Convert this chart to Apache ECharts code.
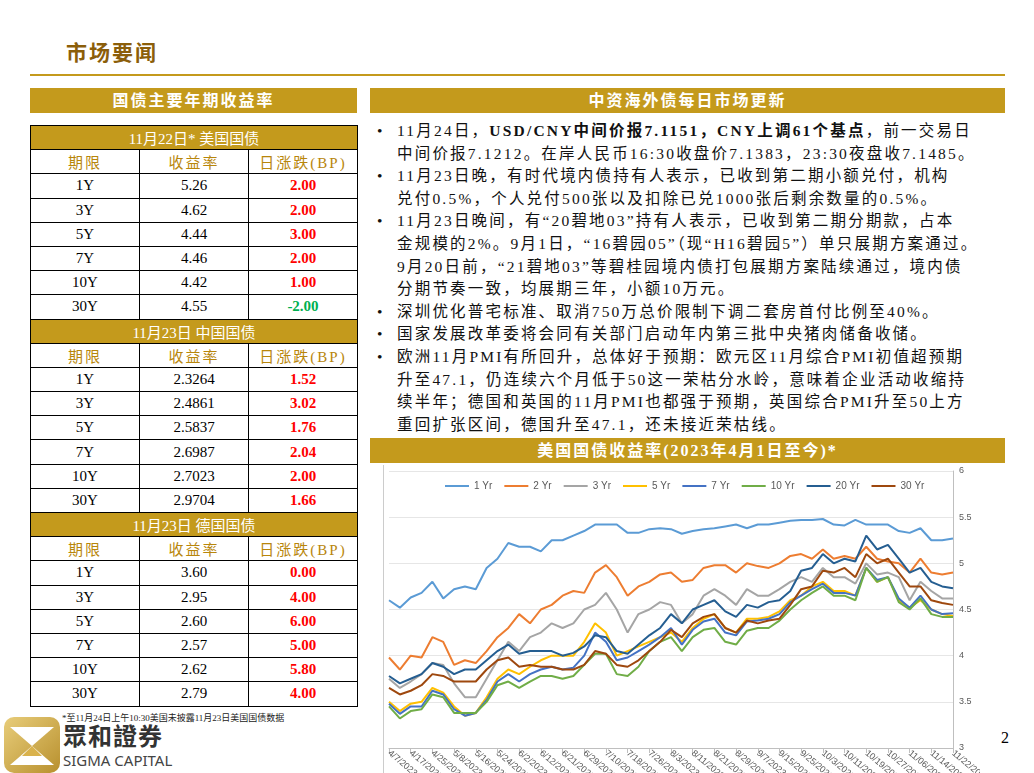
<!DOCTYPE html>
<html>
<head>
<meta charset="utf-8">
<script src="https://cdn.jsdelivr.net/npm/echarts@6/dist/echarts.min.js"></script>
<style>
  body { margin: 0; width: 1034px; height: 773px; background: #fff; position: relative; overflow: hidden;
         font-family: "Liberation Serif", "Noto Sans CJK SC", serif; }
  .abs { position: absolute; }
  .bar { background: #C49A1C; color: #fff; font-weight: bold; font-size: 16px; text-align: center; line-height: 25px; height: 25px; letter-spacing: 2px; }
  table { border-collapse: collapse; }
  td { border: 1px solid #000; height: 23.2px; padding: 0; text-align: center; font-size: 15px; width: 108px; }
  td.sub { background: #C49A1C; color: #fff; }
  td.hd { color: #B8860B; letter-spacing: 2px; }
  .up { color: #FF0000; font-weight: bold; }
  .dn { color: #00B050; font-weight: bold; }
  ul { margin: 0; padding: 0; list-style: none; }
  li { position: relative; padding-left: 27px; font-size: 15.5px; line-height: 22.6px; white-space: nowrap; color: #111; letter-spacing: 2.2px; }
  li:before { content: "•"; position: absolute; left: 7px; }
</style>
</head>
<body>
<div class="abs" style="left:66px;top:36px;font-size:21px;font-weight:bold;color:#8B5E0A;letter-spacing:2px;">市场要闻</div>
<div class="abs" style="left:30px;top:74px;width:975px;height:2px;background:#C49A1C;"></div>

<div class="abs bar" style="left:30px;top:88px;width:327px;">国债主要年期收益率</div>
<table class="abs" id="tbl" style="left:30px;top:125px;width:328px;"></table>
<div class="abs" style="left:62px;top:711px;font-size:9px;color:#222;">*至11月24日上午10:30美国未披露11月23日美国国债数据</div>

<div class="abs" style="left:4px;top:717px;width:56px;height:56px;border-radius:10px;background:linear-gradient(135deg,#E8CD7A,#B8902E);"></div>
<svg class="abs" style="left:10px;top:727px;" width="44" height="38"><polygon points="0,0 44,0 22,19" fill="#fff"/><polygon points="0,38 44,38 22,19" fill="#fff"/><polygon points="12,29 32,29 22,19" fill="#D9B24C"/></svg>
<div class="abs" style="left:63px;top:722px;font-family:'Noto Sans CJK TC',sans-serif;font-size:24px;font-weight:bold;color:#333;letter-spacing:1px;line-height:26px;">眾和證券</div>
<div class="abs" style="left:63px;top:751px;font-family:'Noto Sans',sans-serif;font-size:15px;color:#444;line-height:18px;">SIGMA CAPITAL</div>

<div class="abs bar" style="left:370px;top:88px;width:635px;">中资海外债每日市场更新</div>
<ul class="abs" style="left:370px;top:120px;">
  <li>11月24日，<b>USD/CNY中间价报7.1151，CNY上调61个基点</b>，前一交易日<br>中间价报7.1212。在岸人民币16:30收盘价7.1383，23:30夜盘收7.1485。</li>
  <li>11月23日晚，有时代境内债持有人表示，已收到第二期小额兑付，机构<br>兑付0.5%，个人兑付500张以及扣除已兑1000张后剩余数量的0.5%。</li>
  <li>11月23日晚间，有“20碧地03”持有人表示，已收到第二期分期款，占本<br>金规模的2%。9月1日，“16碧园05”（现“H16碧园5”）单只展期方案通过。<br>9月20日前，“21碧地03”等碧桂园境内债打包展期方案陆续通过，境内债<br>分期节奏一致，均展期三年，小额10万元。</li>
  <li>深圳优化普宅标准、取消750万总价限制下调二套房首付比例至40%。</li>
  <li>国家发展改革委将会同有关部门启动年内第三批中央猪肉储备收储。</li>
  <li>欧洲11月PMI有所回升，总体好于预期：欧元区11月综合PMI初值超预期<br>升至47.1，仍连续六个月低于50这一荣枯分水岭，意味着企业活动收缩持<br>续半年；德国和英国的11月PMI也都强于预期，英国综合PMI升至50上方<br>重回扩张区间，德国升至47.1，还未接近荣枯线。</li>
</ul>

<div class="abs bar" style="left:370px;top:438px;width:635px;">美国国债收益率(2023年4月1日至今)*</div>
<div class="abs" style="left:383px;top:465px;width:1px;height:308px;background:#ccc;"></div>
<div class="abs" id="chart" style="left:370px;top:462px;width:610px;height:311px;"></div>
<div class="abs" style="left:1001px;top:729px;font-size:16px;">2</div>

<script>
/* 收益率表 */
var tableSections = ['11月22日*  美国国债', '11月23日  中国国债', '11月23日  德国国债'];
var tenors = ['1Y', '3Y', '5Y', '7Y', '10Y', '30Y'];
var usYield = ['5.26', '4.62', '4.44', '4.46', '4.42', '4.55'];
var usChange = ['2.00', '2.00', '3.00', '2.00', '1.00', '-2.00'];
var cnYield = ['2.3264', '2.4861', '2.5837', '2.6987', '2.7023', '2.9704'];
var cnChange = ['1.52', '3.02', '1.76', '2.04', '2.00', '1.66'];
var deYield = ['3.60', '2.95', '2.60', '2.57', '2.62', '2.79'];
var deChange = ['0.00', '4.00', '6.00', '5.00', '5.80', '4.00'];

/* 美国国债收益率走势 */
var dates = ['4/7/2023','4/12/2023','4/17/2023','4/20/2023','4/25/2023','5/2/2023','5/8/2023','5/11/2023','5/16/2023','5/19/2023',
  '5/24/2023','5/30/2023','6/2/2023','6/7/2023','6/12/2023','6/15/2023','6/21/2023','6/26/2023','6/29/2023','7/5/2023',
  '7/10/2023','7/13/2023','7/18/2023','7/21/2023','7/26/2023','7/31/2023','8/3/2023','8/8/2023','8/11/2023','8/16/2023',
  '8/21/2023','8/24/2023','8/29/2023','9/1/2023','9/7/2023','9/12/2023','9/15/2023','9/20/2023','9/25/2023','9/28/2023',
  '10/3/2023','10/6/2023','10/11/2023','10/16/2023','10/19/2023','10/24/2023','10/27/2023','11/1/2023','11/06/2023','11/9/2023',
  '11/14/2023','11/17/2023','11/22/2023'];
var y1 = [4.6,4.52,4.63,4.68,4.8,4.62,4.72,4.75,4.72,4.95,5.05,5.22,5.18,5.18,5.13,5.25,5.25,5.3,5.35,5.42,5.42,5.42,5.33,5.33,5.37,5.38,5.37,5.32,5.35,5.37,5.38,5.4,5.42,5.38,5.42,5.42,5.44,5.46,5.47,5.47,5.48,5.42,5.41,5.47,5.42,5.42,5.42,5.35,5.33,5.38,5.25,5.25,5.27];
var y2 = [3.98,3.85,4.0,3.98,4.2,4.15,3.9,3.95,3.92,4.05,4.2,4.3,4.45,4.35,4.5,4.55,4.65,4.7,4.68,4.9,4.98,4.85,4.65,4.75,4.8,4.88,4.9,4.8,4.82,4.95,4.98,4.98,4.9,5.0,4.97,4.95,5.0,5.08,5.1,5.05,5.15,5.05,5.08,5.05,5.18,5.05,5.02,5.0,4.9,5.05,4.9,4.88,4.9];
var y3 = [3.75,3.65,3.72,3.8,3.92,3.9,3.7,3.55,3.55,3.75,3.95,4.15,4.05,4.2,4.25,4.35,4.3,4.35,4.5,4.55,4.68,4.5,4.25,4.45,4.5,4.58,4.55,4.35,4.45,4.65,4.72,4.65,4.55,4.72,4.65,4.65,4.72,4.8,4.85,4.8,4.95,4.85,4.85,4.78,5.0,4.88,4.9,4.85,4.6,4.8,4.7,4.62,4.62];
var y5 = [3.5,3.4,3.48,3.5,3.65,3.6,3.45,3.35,3.38,3.55,3.75,3.85,3.8,3.88,3.95,4.0,4.0,4.0,4.15,4.35,4.25,4.0,4.05,4.1,4.15,4.2,4.25,4.15,4.3,4.4,4.45,4.3,4.25,4.4,4.4,4.42,4.48,4.6,4.65,4.75,4.8,4.7,4.7,4.65,4.95,4.8,4.85,4.6,4.52,4.6,4.5,4.45,4.43];
var y7 = [3.48,3.37,3.45,3.45,3.62,3.58,3.42,3.35,3.38,3.52,3.72,3.8,3.72,3.8,3.85,3.88,3.85,3.87,4.0,4.25,4.15,3.95,3.98,4.05,4.12,4.2,4.3,4.12,4.28,4.37,4.4,4.25,4.22,4.37,4.38,4.4,4.45,4.58,4.65,4.72,4.78,4.68,4.68,4.65,4.95,4.82,4.85,4.62,4.52,4.65,4.5,4.45,4.46];
var y10 = [3.45,3.32,3.4,3.42,3.58,3.55,3.38,3.38,3.38,3.5,3.68,3.72,3.65,3.72,3.78,3.78,3.75,3.78,3.9,4.02,4.02,3.8,3.78,3.88,4.05,4.15,4.2,4.05,4.2,4.28,4.3,4.15,4.12,4.27,4.3,4.3,4.38,4.5,4.6,4.68,4.75,4.65,4.65,4.6,4.95,4.8,4.85,4.58,4.5,4.62,4.45,4.42,4.42];
var y20 = [3.78,3.7,3.75,3.8,3.92,3.88,3.8,3.85,3.85,3.95,4.05,4.12,4.02,4.05,4.05,4.05,4.0,4.03,4.1,4.22,4.2,4.05,4.02,4.12,4.22,4.3,4.45,4.35,4.5,4.55,4.6,4.48,4.42,4.55,4.52,4.58,4.6,4.7,4.92,4.95,5.1,5.0,5.05,5.02,5.3,5.15,5.2,5.05,4.9,4.95,4.8,4.75,4.73];
var y30 = [3.65,3.58,3.62,3.68,3.8,3.78,3.72,3.72,3.72,3.85,3.95,3.98,3.88,3.9,3.88,3.88,3.85,3.85,3.9,4.05,4.02,3.9,3.88,3.95,4.05,4.15,4.28,4.2,4.35,4.42,4.45,4.3,4.25,4.38,4.35,4.38,4.4,4.55,4.72,4.75,4.92,4.9,4.95,4.85,5.1,5.0,5.05,4.9,4.75,4.75,4.6,4.57,4.55];
var seriesNames = ['1 Yr', '2 Yr', '3 Yr', '5 Yr', '7 Yr', '10 Yr', '20 Yr', '30 Yr'];
var seriesColors = ['#5B9BD5', '#ED7D31', '#A5A5A5', '#FFC000', '#4472C4', '#70AD47', '#255E91', '#9E480E'];
var seriesData = [y1, y2, y3, y5, y7, y10, y20, y30];

// 画表格
var html = '';
function cls(v) { return v.charAt(0) === '-' ? 'dn' : 'up'; }
[[usYield, usChange], [cnYield, cnChange], [deYield, deChange]].forEach(function (sec, k) {
  html += '<tr><td colspan="3" class="sub">' + tableSections[k] + '</td></tr>';
  html += '<tr><td class="hd">期限</td><td class="hd">收益率</td><td class="hd">日涨跌(BP)</td></tr>';
  tenors.forEach(function (t, i) {
    html += '<tr><td>' + t + '</td><td>' + sec[0][i] + '</td><td class="' + cls(sec[1][i]) + '">' + sec[1][i] + '</td></tr>';
  });
});
document.getElementById('tbl').innerHTML = html;

// 画折线图
var myChart = echarts.init(document.getElementById('chart'));
var option = {
  animation: false,
  color: seriesColors,
  legend: {
    top: 14, left: 70, itemWidth: 24, itemHeight: 2, itemGap: 12, icon: 'rect',
    textStyle: { fontSize: 10, color: '#595959', fontFamily: 'Liberation Sans' },
    data: seriesNames
  },
  grid: { left: 19, right: 27, top: 9, bottom: 25, containLabel: false, outerBoundsMode: 'none' },
  xAxis: {
    type: 'category', boundaryGap: false, data: dates,
    axisLine: { lineStyle: { color: '#bfbfbf' } },
    axisTick: { show: true, interval: 1, lineStyle: { color: '#bfbfbf' } },
    axisLabel: { interval: 1, rotate: -40, fontSize: 9, color: '#595959', margin: 4, fontFamily: 'Liberation Sans' }
  },
  yAxis: {
    type: 'value', position: 'right', min: 3, max: 6, interval: 0.5,
    axisLine: { show: true, lineStyle: { color: '#bfbfbf' } },
    axisLabel: { fontSize: 9, color: '#595959', margin: 6, fontFamily: 'Liberation Sans' },
    splitLine: { lineStyle: { color: '#e6e6e6' } }
  },
  series: seriesNames.map(function (n, i) {
    return { name: n, type: 'line', data: seriesData[i], showSymbol: false, lineStyle: { width: 2 } };
  })
};
myChart.setOption(option);
</script>
</body>
</html>
